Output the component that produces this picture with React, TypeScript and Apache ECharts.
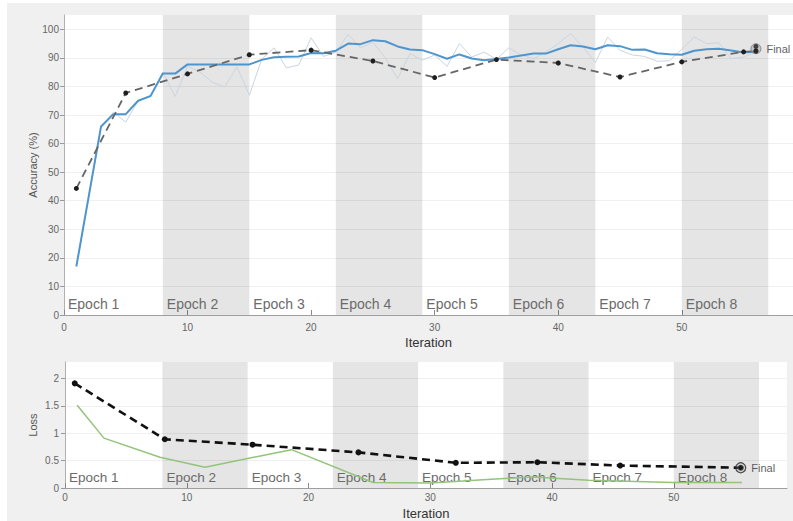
import React, { useEffect, useRef } from 'react';
import * as echarts from 'echarts';

// ---------- data ----------
const epochNames = ['Epoch 1', 'Epoch 2', 'Epoch 3', 'Epoch 4', 'Epoch 5', 'Epoch 6', 'Epoch 7', 'Epoch 8'];
const epochStarts = [0, 8, 15, 22, 29, 36, 43, 50];
const epochEnds = [8, 15, 22, 29, 36, 43, 50, 57];

const iterTicks = [0, 10, 20, 30, 40, 50];
const accTicks = [0, 10, 20, 30, 40, 50, 60, 70, 80, 90, 100];
const lossTicks = [0, 0.5, 1, 1.5, 2];

// training accuracy, iterations 1..56
const trainAccSmooth = [
  17, 41.5, 66, 70.3, 70.3, 75, 76.6, 84.5, 84.5, 87.7,
  87.7, 87.7, 87.7, 87.7, 87.7, 89.3, 90.2, 90.4, 90.5, 91.7,
  91.6, 92.5, 95, 94.8, 96.2, 95.8, 94.0, 92.9, 92.7, 91.3,
  89.7, 91.2, 89.8, 89.2, 89.6, 90.1, 90.8, 91.5, 91.5, 93.0,
  94.4, 94.0, 93.0, 94.4, 94.1, 92.8, 92.9, 91.6, 91.3, 91.1,
  92.5, 93.0, 93.2, 92.6, 91.9, 92.2,
];
const trainAccRaw = [
  17, 41, 66, 71, 67.5, 75, 77, 85, 76.5, 87,
  85, 81.5, 79.8, 86.8, 76.9, 89.5, 93.5, 86.5, 87.5, 97,
  90.5, 92, 98.2, 93.5, 95.5, 90, 82.7, 91.5, 89.2, 91,
  87, 95, 90.3, 92, 89.5, 93.5, 91, 89.7, 92, 95,
  98.5, 93.8, 88.3, 97.3, 92.7, 91, 90.5, 88.8, 89, 93,
  97.3, 95, 95.3, 89.7, 90.3, 92,
];
const valAccIter = [1, 5, 10, 15, 20, 25, 30, 35, 40, 45, 50, 55, 56];
const valAcc = [44.3, 77.7, 84.4, 91.1, 92.7, 88.9, 83.1, 89.4, 88.2, 83.3, 88.6, 92.1, 92.4];
const finalAccIter = 56;
const finalTrainAcc = 94.0;
const finalValAcc = 92.4;

const lossTrainIter = [1, 3.2, 7.8, 11.5, 18.6, 25.3, 30, 35.7, 38.5, 43, 50, 55.6];
const lossTrain = [1.51, 0.91, 0.56, 0.38, 0.7, 0.1, 0.09, 0.17, 0.2, 0.14, 0.1, 0.1];
const lossValIter = [0.8, 8.2, 15.4, 24.1, 32.1, 38.8, 45.6, 55.5];
const lossVal = [1.91, 0.89, 0.79, 0.65, 0.46, 0.47, 0.41, 0.37];

const FONT = '"Liberation Sans", Arial, Helvetica, sans-serif';

function bandArea(fontSize: number) {
  return {
    silent: true,
    label: {
      show: true,
      position: 'insideBottomLeft',
      distance: 4,
      fontSize,
      color: '#6b6b6b',
      fontFamily: FONT,
    },
    data: epochNames.map((n, i) => [
      {
        name: n,
        xAxis: epochStarts[i],
        itemStyle: { color: i % 2 === 1 ? 'rgba(0,0,0,0.1)' : 'rgba(0,0,0,0)' },
      },
      { xAxis: epochEnds[i] },
    ]),
  };
}

function xAxisCfg(gridIndex: number, max: number, nameGap: number, labelMargin: number) {
  return {
    gridIndex,
    type: 'value',
    min: 0,
    max,
    interval: 10,
    axisLine: { show: true, lineStyle: { color: '#9e9e9e', width: 1 } },
    axisTick: { show: true, inside: true, length: 5, customValues: iterTicks, lineStyle: { color: '#8a8a8a' } },
    axisLabel: { customValues: iterTicks, color: '#666', fontSize: 10, margin: labelMargin, fontFamily: FONT },
    splitLine: { show: false },
    name: 'Iteration',
    nameLocation: 'middle',
    nameGap,
    nameMoveOverlap: false,
    nameTextStyle: { color: '#333', fontSize: 13, fontFamily: FONT },
  };
}

export default function App() {
  const ref = useRef<HTMLDivElement>(null);

  useEffect(() => {
    if (!ref.current) return;
    const chart = echarts.init(ref.current, undefined, { renderer: 'svg' });
    const option: any = {
      animation: false,
      backgroundColor: 'transparent',
      textStyle: { fontFamily: FONT },
      grid: [
        { left: 64, top: 15, width: 729, height: 300, show: true, backgroundColor: '#ffffff', borderWidth: 0 },
        { left: 65, top: 362, width: 722, height: 129, show: true, backgroundColor: '#ffffff', borderWidth: 0 },
      ],
      xAxis: [xAxisCfg(0, 59, 21, 7), xAxisCfg(1, 59.3, 19, 4)],
      yAxis: [
        {
          gridIndex: 0,
          type: 'value',
          min: 0,
          max: 105,
          interval: 10,
          axisLine: { show: true, lineStyle: { color: '#b0b0b0' } },
          axisTick: { show: true, length: 4, customValues: accTicks, lineStyle: { color: '#999' } },
          axisLabel: { customValues: accTicks, color: '#666', fontSize: 10, margin: 5, fontFamily: FONT },
          splitLine: { show: true, lineStyle: { color: 'rgba(0,0,0,0.06)' } },
          name: 'Accuracy (%)',
          nameLocation: 'middle',
          nameGap: 26,
          nameMoveOverlap: false,
          nameTextStyle: { color: '#555', fontSize: 11, fontFamily: FONT },
        },
        {
          gridIndex: 1,
          type: 'value',
          min: 0,
          max: 2.3,
          interval: 0.5,
          axisLine: { show: true, lineStyle: { color: '#b0b0b0' } },
          axisTick: { show: true, length: 4, customValues: lossTicks, lineStyle: { color: '#999' } },
          axisLabel: { customValues: lossTicks, color: '#666', fontSize: 10, margin: 6, fontFamily: FONT },
          splitLine: { show: true, lineStyle: { color: 'rgba(0,0,0,0.06)' } },
          name: 'Loss',
          nameLocation: 'middle',
          nameGap: 27,
          nameMoveOverlap: false,
          nameTextStyle: { color: '#555', fontSize: 11, fontFamily: FONT },
        },
      ],
      series: [
        {
          name: 'bands-acc',
          type: 'line',
          xAxisIndex: 0,
          yAxisIndex: 0,
          z: 1,
          data: [],
          silent: true,
          markArea: bandArea(14),
        },
        {
          name: 'Training accuracy',
          type: 'line',
          xAxisIndex: 0,
          yAxisIndex: 0,
          z: 3,
          symbol: 'none',
          lineStyle: { color: '#c8d5e1', width: 1 },
          data: trainAccRaw.map((v, i) => [i + 1, v]),
        },
        {
          name: 'Smoothed training accuracy',
          type: 'line',
          xAxisIndex: 0,
          yAxisIndex: 0,
          z: 4,
          symbol: 'none',
          lineStyle: { color: '#4f95cd', width: 2 },
          data: trainAccSmooth.map((v, i) => [i + 1, v]),
        },
        {
          name: 'Validation accuracy',
          type: 'line',
          xAxisIndex: 0,
          yAxisIndex: 0,
          z: 5,
          symbol: 'circle',
          symbolSize: 5,
          itemStyle: { color: '#1e1e1e' },
          lineStyle: { color: '#666', width: 1.8, type: [8, 5] },
          data: valAcc.map((v, i) => [valAccIter[i], v]),
        },
        {
          name: 'Final accuracy ring',
          type: 'scatter',
          xAxisIndex: 0,
          yAxisIndex: 0,
          z: 6,
          symbol: 'circle',
          symbolSize: 10,
          itemStyle: { color: 'rgba(150,150,150,0.5)', borderColor: '#777', borderWidth: 1 },
          label: { show: true, position: 'right', distance: 5, formatter: 'Final', color: '#333', fontSize: 11, fontFamily: FONT },
          data: [[finalAccIter, (finalTrainAcc + finalValAcc) / 2]],
        },
        {
          name: 'Final accuracy',
          type: 'scatter',
          xAxisIndex: 0,
          yAxisIndex: 0,
          z: 7,
          symbol: 'circle',
          symbolSize: 5,
          itemStyle: { color: '#1e1e1e' },
          data: [[finalAccIter, finalTrainAcc], [finalAccIter, finalValAcc]],
        },
        {
          name: 'bands-loss',
          type: 'line',
          xAxisIndex: 1,
          yAxisIndex: 1,
          z: 1,
          data: [],
          silent: true,
          markArea: bandArea(13.5),
        },
        {
          name: 'Training loss',
          type: 'line',
          xAxisIndex: 1,
          yAxisIndex: 1,
          z: 3,
          symbol: 'none',
          lineStyle: { color: '#92c47a', width: 1.5 },
          data: lossTrain.map((v, i) => [lossTrainIter[i], v]),
        },
        {
          name: 'Validation loss',
          type: 'line',
          xAxisIndex: 1,
          yAxisIndex: 1,
          z: 5,
          symbol: 'circle',
          symbolSize: 6,
          itemStyle: { color: '#111' },
          lineStyle: { color: '#111', width: 2.6, type: [8, 5] },
          data: lossVal.map((v, i) => [lossValIter[i], v]),
        },
        {
          name: 'Final loss',
          type: 'scatter',
          xAxisIndex: 1,
          yAxisIndex: 1,
          z: 6,
          symbol: 'circle',
          symbolSize: 10,
          itemStyle: { color: 'rgba(160,160,160,0.35)', borderColor: '#222', borderWidth: 1.2 },
          label: { show: true, position: 'right', distance: 5, formatter: 'Final', color: '#333', fontSize: 11, fontFamily: FONT },
          data: [[lossValIter[lossValIter.length - 1], lossVal[lossVal.length - 1]]],
        },
        {
          name: 'Final loss dot',
          type: 'scatter',
          xAxisIndex: 1,
          yAxisIndex: 1,
          z: 7,
          symbol: 'circle',
          symbolSize: 4,
          itemStyle: { color: '#111' },
          data: [[lossValIter[lossValIter.length - 1], lossVal[lossVal.length - 1]]],
        },
      ],
    };
    chart.setOption(option);
    return () => chart.dispose();
  }, []);

  return (
    <div style={{ position: 'fixed', left: 0, top: 0, width: 793, height: 521, background: '#ffffff', overflow: 'hidden' }}>
      <div style={{ position: 'absolute', left: 7, top: 3, width: 786, height: 518, background: '#f0f0f0' }} />
      <div ref={ref} style={{ position: 'absolute', left: 0, top: 0, width: 793, height: 521 }} />
    </div>
  );
}
